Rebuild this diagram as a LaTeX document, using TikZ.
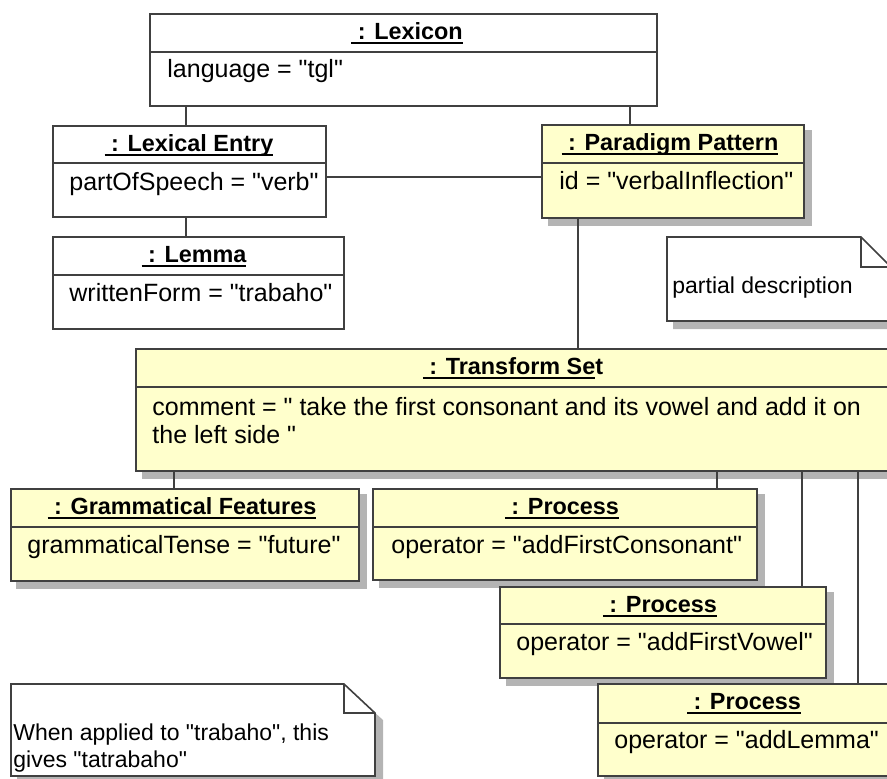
\documentclass[tikz,border=0pt]{standalone}
\usepackage{fontspec}
\setmainfont{Liberation Sans}[Ligatures=TeXOff]
\usetikzlibrary{fit}
\definecolor{umlyellow}{HTML}{FFFFCC}
\definecolor{umlline}{HTML}{404040}
\definecolor{umlshadow}{HTML}{B4B4B4}
\newcommand\ulx[1]{\setbox0\hbox{#1}\rlap{\rule[-2.5pt]{\wd0}{1.1pt}}\box0}
\begin{document}
\begin{tikzpicture}[x=0.5pt,y=-0.5pt,
  objbox/.style={draw=umlline, line width=0.8pt, fill=white, inner sep=0pt},
  yellowbox/.style={objbox, fill=umlyellow},
  title/.style={anchor=base, inner sep=0pt, font=\fontsize{11.7}{14}\selectfont\bfseries},
  attr/.style={anchor=base west, inner sep=0pt, font=\fontsize{12.5}{15}\selectfont},
  notetext/.style={anchor=base west, inner sep=0pt, font=\fontsize{11.5}{14}\selectfont},
  link/.style={draw=umlline, line width=0.8pt},
  shade/.style={fill=umlshadow, draw=none}]
\useasboundingbox (0,0) rectangle (887,778);
\clip (0,0) rectangle (887,778);

% connector x positions
\coordinate (cx1) at (186,0);
\coordinate (cx2) at (630,0);
\coordinate (cx3) at (578,0);
\coordinate (cx4) at (174,0);
\coordinate (cx5) at (717,0);
\coordinate (cx6) at (802,0);
\coordinate (cx7) at (858,0);
\coordinate (cy1) at (0,177);

% Lexicon
\node[objbox, fit={(150,14) (657,106)}] (lex) {};
\draw[link] (150,52) -- (657,52);
\node[title] (lext) at (407,39) {\ulx{\ : Lexicon}};
\node[attr] (lexa) at (167,77) {language = "tgl"};

% Lexical Entry
\node[objbox, fit={(53,126) (326,217)}] (le) {};
\draw[link] (53,163) -- (326,163);
\node[title] (let) at (189,151) {\ulx{\ : Lexical Entry}};
\node[attr] (lea) at (69,190) {partOfSpeech = "verb"};

% Lemma
\node[objbox, fit={(53,237) (344,329)}] (lem) {};
\draw[link] (53,275) -- (344,275);
\node[title] (lemt) at (194,262) {\ulx{\ : Lemma}};
\node[attr] (lema) at (69,301) {writtenForm = "trabaho"};

% Paradigm Pattern
\fill[shade] (548,130) rectangle (812,226);
\node[yellowbox, fit={(542,125) (804,218)}] (pp) {};
\draw[link] (542,163) -- (804,163);
\node[title] (ppt) at (670,150) {\ulx{\ : Paradigm Pattern}};
\node[attr] (ppa) at (559,189) {id = "verbalInflection"};

% note: partial description
\fill[shade] (673,244) -- (868,244) -- (898,274) -- (898,329) -- (673,329) -- cycle;
\filldraw[fill=white, draw=umlline, line width=0.8pt]
  (667,237) -- (861,237) -- (891,267) -- (891,321) -- (667,321) -- cycle;
\draw[link] (861,237) -- (861,267) -- (891,267);
\node[notetext] (n1) at (672,293) {partial description};

% Transform Set
\fill[shade] (142,354) rectangle (900,479);
\node[yellowbox, fit={(136,349) (892,471)}] (ts) {};
\draw[link] (136,387) -- (892,387);
\node[title] (tst) at (513,374) {\ulx{\ : Transform Se}t};
\node[attr] (tsa1) at (152,415) {comment = " take the first consonant and its vowel and add it on};
\node[attr] (tsa2) at (152,443) {the left side "};

% Grammatical Features
\fill[shade] (16,494) rectangle (367,589);
\node[yellowbox, fit={(11,489) (359,581)}] (gf) {};
\draw[link] (11,527) -- (359,527);
\node[title] (gft) at (182,514) {\ulx{\ : Grammatical Features}};
\node[attr] (gfa) at (27,553) {grammaticalTense = "future"};

% Process 1
\fill[shade] (379,494) rectangle (765,588);
\node[yellowbox, fit={(373,489) (757,580)}] (p1) {};
\draw[link] (373,527) -- (757,527);
\node[title] (p1t) at (562,514) {\ulx{\ : Process}};
\node[attr] (p1a) at (391,553) {operator = "addFirstConsonant"};

% Process 2
\fill[shade] (506,592) rectangle (834,686);
\node[yellowbox, fit={(500,587) (826,678)}] (p2) {};
\draw[link] (500,624) -- (826,624);
\node[title] (p2t) at (660,612) {\ulx{\ : Process}};
\node[attr] (p2a) at (516,650) {operator = "addFirstVowel"};

% Process 3
\fill[shade] (604,689) rectangle (900,784);
\node[yellowbox, fit={(598,684) (892,776)}] (p3) {};
\draw[link] (598,723) -- (892,723);
\node[title] (p3t) at (744,709) {\ulx{\ : Process}};
\node[attr] (p3a) at (614,748) {operator = "addLemma"};

% note: When applied ...
\fill[shade] (17,691) -- (351,691) -- (383,720) -- (383,784) -- (17,784) -- cycle;
\filldraw[fill=white, draw=umlline, line width=0.8pt]
  (11,684) -- (344,684) -- (375,713) -- (375,776) -- (11,776) -- cycle;
\draw[link] (344,684) -- (344,713) -- (375,713);
\node[notetext] (n2a) at (13,740) {When applied to "trabaho", this};
\node[notetext] (n2b) at (13,767) {gives "tatrabaho"};

% connectors
\draw[link] (lex.south -| cx1) -- (le.north -| cx1);
\draw[link] (lex.south -| cx2) -- (pp.north -| cx2);
\draw[link] (le.south -| cx1) -- (lem.north -| cx1);
\draw[link] (le.east |- cy1) -- (pp.west |- cy1);
\draw[link] (pp.south -| cx3) -- (ts.north -| cx3);
\draw[link] (ts.south -| cx4) -- (gf.north -| cx4);
\draw[link] (ts.south -| cx5) -- (p1.north -| cx5);
\draw[link] (ts.south -| cx6) -- (p2.north -| cx6);
\draw[link] (ts.south -| cx7) -- (p3.north -| cx7);
\end{tikzpicture}
\end{document}
